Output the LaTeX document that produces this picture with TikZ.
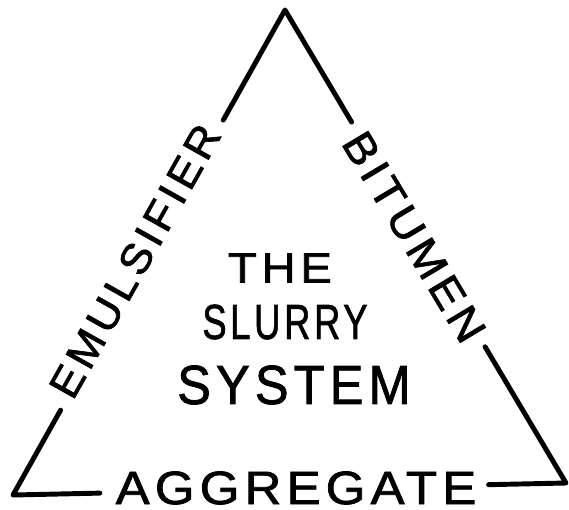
\documentclass[tikz,border=0pt]{standalone}
\usepackage{fontspec}
\newfontfamily\handfont[LetterSpace=10,FakeBold=1.5]{Liberation Sans}
\newcommand{\handsize}[1]{\fontsize{#1}{#1}\selectfont}
\usetikzlibrary{calc}
\tikzset{
  side/.style = {
    line width=4.2pt,
    line cap=round,
    line join=round,
    black
  },
  side_label/.style = {
    inner sep=0pt,
    text=black,
    font=\handfont
  },
  center_label/.style = {
    inner sep=0pt,
    text=black,
    font=\handfont
  }
}

\begin{document}
\begin{tikzpicture}[x=0.03cm, y=-0.03cm]

\useasboundingbox (0,0) rectangle (569,509);

% Ecken
\coordinate (apex) at (285,10);
\coordinate (left_corner) at (13,495);
\coordinate (right_corner) at (566,483);

% Luecken fuer die Beschriftung
\coordinate (emul_top) at ($(apex)!0.227!(left_corner)$);
\coordinate (emul_bottom) at ($(apex)!0.825!(left_corner)$);
\coordinate (bitu_top) at ($(apex)!0.237!(right_corner)$);
\coordinate (bitu_bottom) at ($(apex)!0.712!(right_corner)$);
\coordinate (aggr_left) at ($(left_corner)!0.157!(right_corner)$);
\coordinate (aggr_right) at ($(left_corner)!0.86!(right_corner)$);

% Seiten
\node[side_label, rotate=60.7, xscale=1.05] (emulsifier) at (135,261) {\handsize{36}EMULSIFIER};
\node[side_label, rotate=-59.1, xscale=1.07] (bitumen) at (414,237) {\handsize{37}BITUMEN};
\node[side_label, xscale=1.09] (aggregate) at (296,488) {\handsize{40}AGGREGATE};

% Mitte
\node[center_label, xscale=1.12] (the) at (280,268) {\handsize{36}THE};
\node[center_label, xscale=0.74] (slurry) at (285,322) {\handsize{42}SLURRY};
\node[center_label, xscale=0.92] (system) at (294,385) {\handsize{47}SYSTEM};

% Linien
\draw[side] (emul_top) -- (apex) -- (bitu_top);
\draw[side] (emul_bottom) -- (left_corner) -- (aggr_left);
\draw[side] (bitu_bottom) -- (right_corner) -- (aggr_right);

\end{tikzpicture}
\end{document}
